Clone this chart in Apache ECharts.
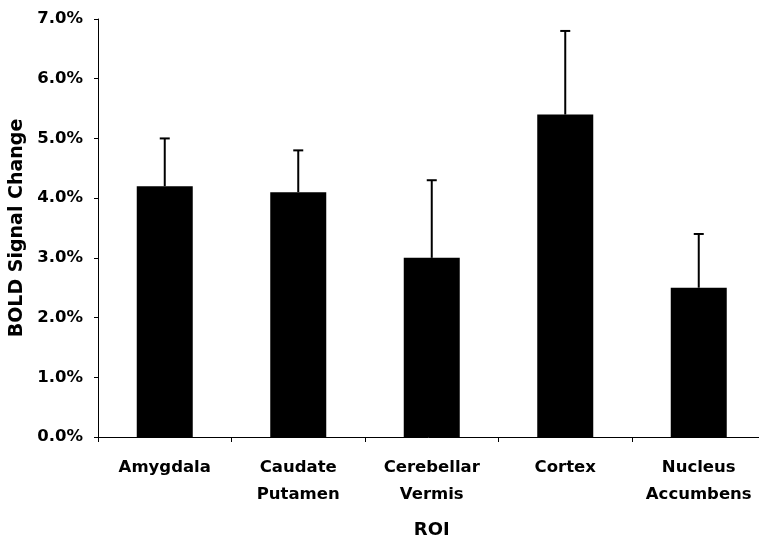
<!DOCTYPE html>
<html>
<head>
<meta charset="utf-8">
<script src="https://cdn.jsdelivr.net/npm/echarts@6/dist/echarts.min.js"></script>
<style>html,body{margin:0;padding:0;background:#fff;}#c{width:759px;height:538px;}</style>
</head>
<body>
<div id="c"></div>
<script>
var categories = ['Amygdala', 'Caudate\nPutamen', 'Cerebellar\nVermis', 'Cortex', 'Nucleus\nAccumbens'];
var meanValues = [4.2, 4.1, 3.0, 5.4, 2.5];
var errorUpper = [5.0, 4.8, 4.3, 6.8, 3.4];
var yTicks = [0, 1, 2, 3, 4, 5, 6, 7];

var FONT = 'DejaVu Sans';
var chart = echarts.init(document.getElementById('c'), null, {renderer: 'canvas'});
chart.setOption({
  animation: false,
  backgroundColor: '#ffffff',
  grid: {left: 98, top: 19, width: 667.5, height: 418, containLabel: false, outerBoundsMode: 'none'},
  xAxis: {
    type: 'category',
    data: categories,
    boundaryGap: true,
    name: 'ROI',
    nameLocation: 'middle',
    nameGap: 84,
    nameTextStyle: {fontFamily: FONT, fontWeight: 'bold', fontSize: 18, color: '#000'},
    axisLine: {lineStyle: {color: '#000', width: 1}},
    axisTick: {show: true, length: 5, lineStyle: {color: '#000'}},
    axisLabel: {fontFamily: FONT, fontWeight: 'bold', fontSize: 16.5, color: '#000', margin: 17, lineHeight: 27, interval: 0}
  },
  yAxis: {
    type: 'value',
    min: yTicks[0],
    max: yTicks[yTicks.length - 1],
    interval: 1,
    name: 'BOLD Signal Change',
    nameLocation: 'middle',
    nameGap: 70,
    nameTextStyle: {fontFamily: FONT, fontWeight: 'bold', fontSize: 19, color: '#000'},
    axisLine: {show: true, lineStyle: {color: '#000', width: 1}},
    axisTick: {show: true, length: 4, lineStyle: {color: '#000'}},
    splitLine: {show: false},
    axisLabel: {fontFamily: FONT, fontWeight: 'bold', fontSize: 16.5, color: '#000', margin: 15,
      formatter: function (v) { return v.toFixed(1) + '%'; }}
  },
  series: [
    {
      type: 'bar',
      data: meanValues,
      barWidth: 56,
      itemStyle: {color: '#000'},
      z: 2
    },
    {
      type: 'custom',
      data: meanValues.map(function (v, i) { return [i, v, errorUpper[i]]; }),
      z: 3,
      renderItem: function (params, api) {
        var i = api.value(0);
        var base = api.coord([i, api.value(1)]);
        var top = api.coord([i, api.value(2)]);
        var hw = 5;
        return {
          type: 'group',
          children: [
            {type: 'line', shape: {x1: base[0], y1: base[1], x2: top[0], y2: top[1]}, style: {stroke: '#000', lineWidth: 2}},
            {type: 'line', shape: {x1: top[0] - hw, y1: top[1], x2: top[0] + hw, y2: top[1]}, style: {stroke: '#000', lineWidth: 2}}
          ]
        };
      }
    }
  ]
});
</script>
</body>
</html>
